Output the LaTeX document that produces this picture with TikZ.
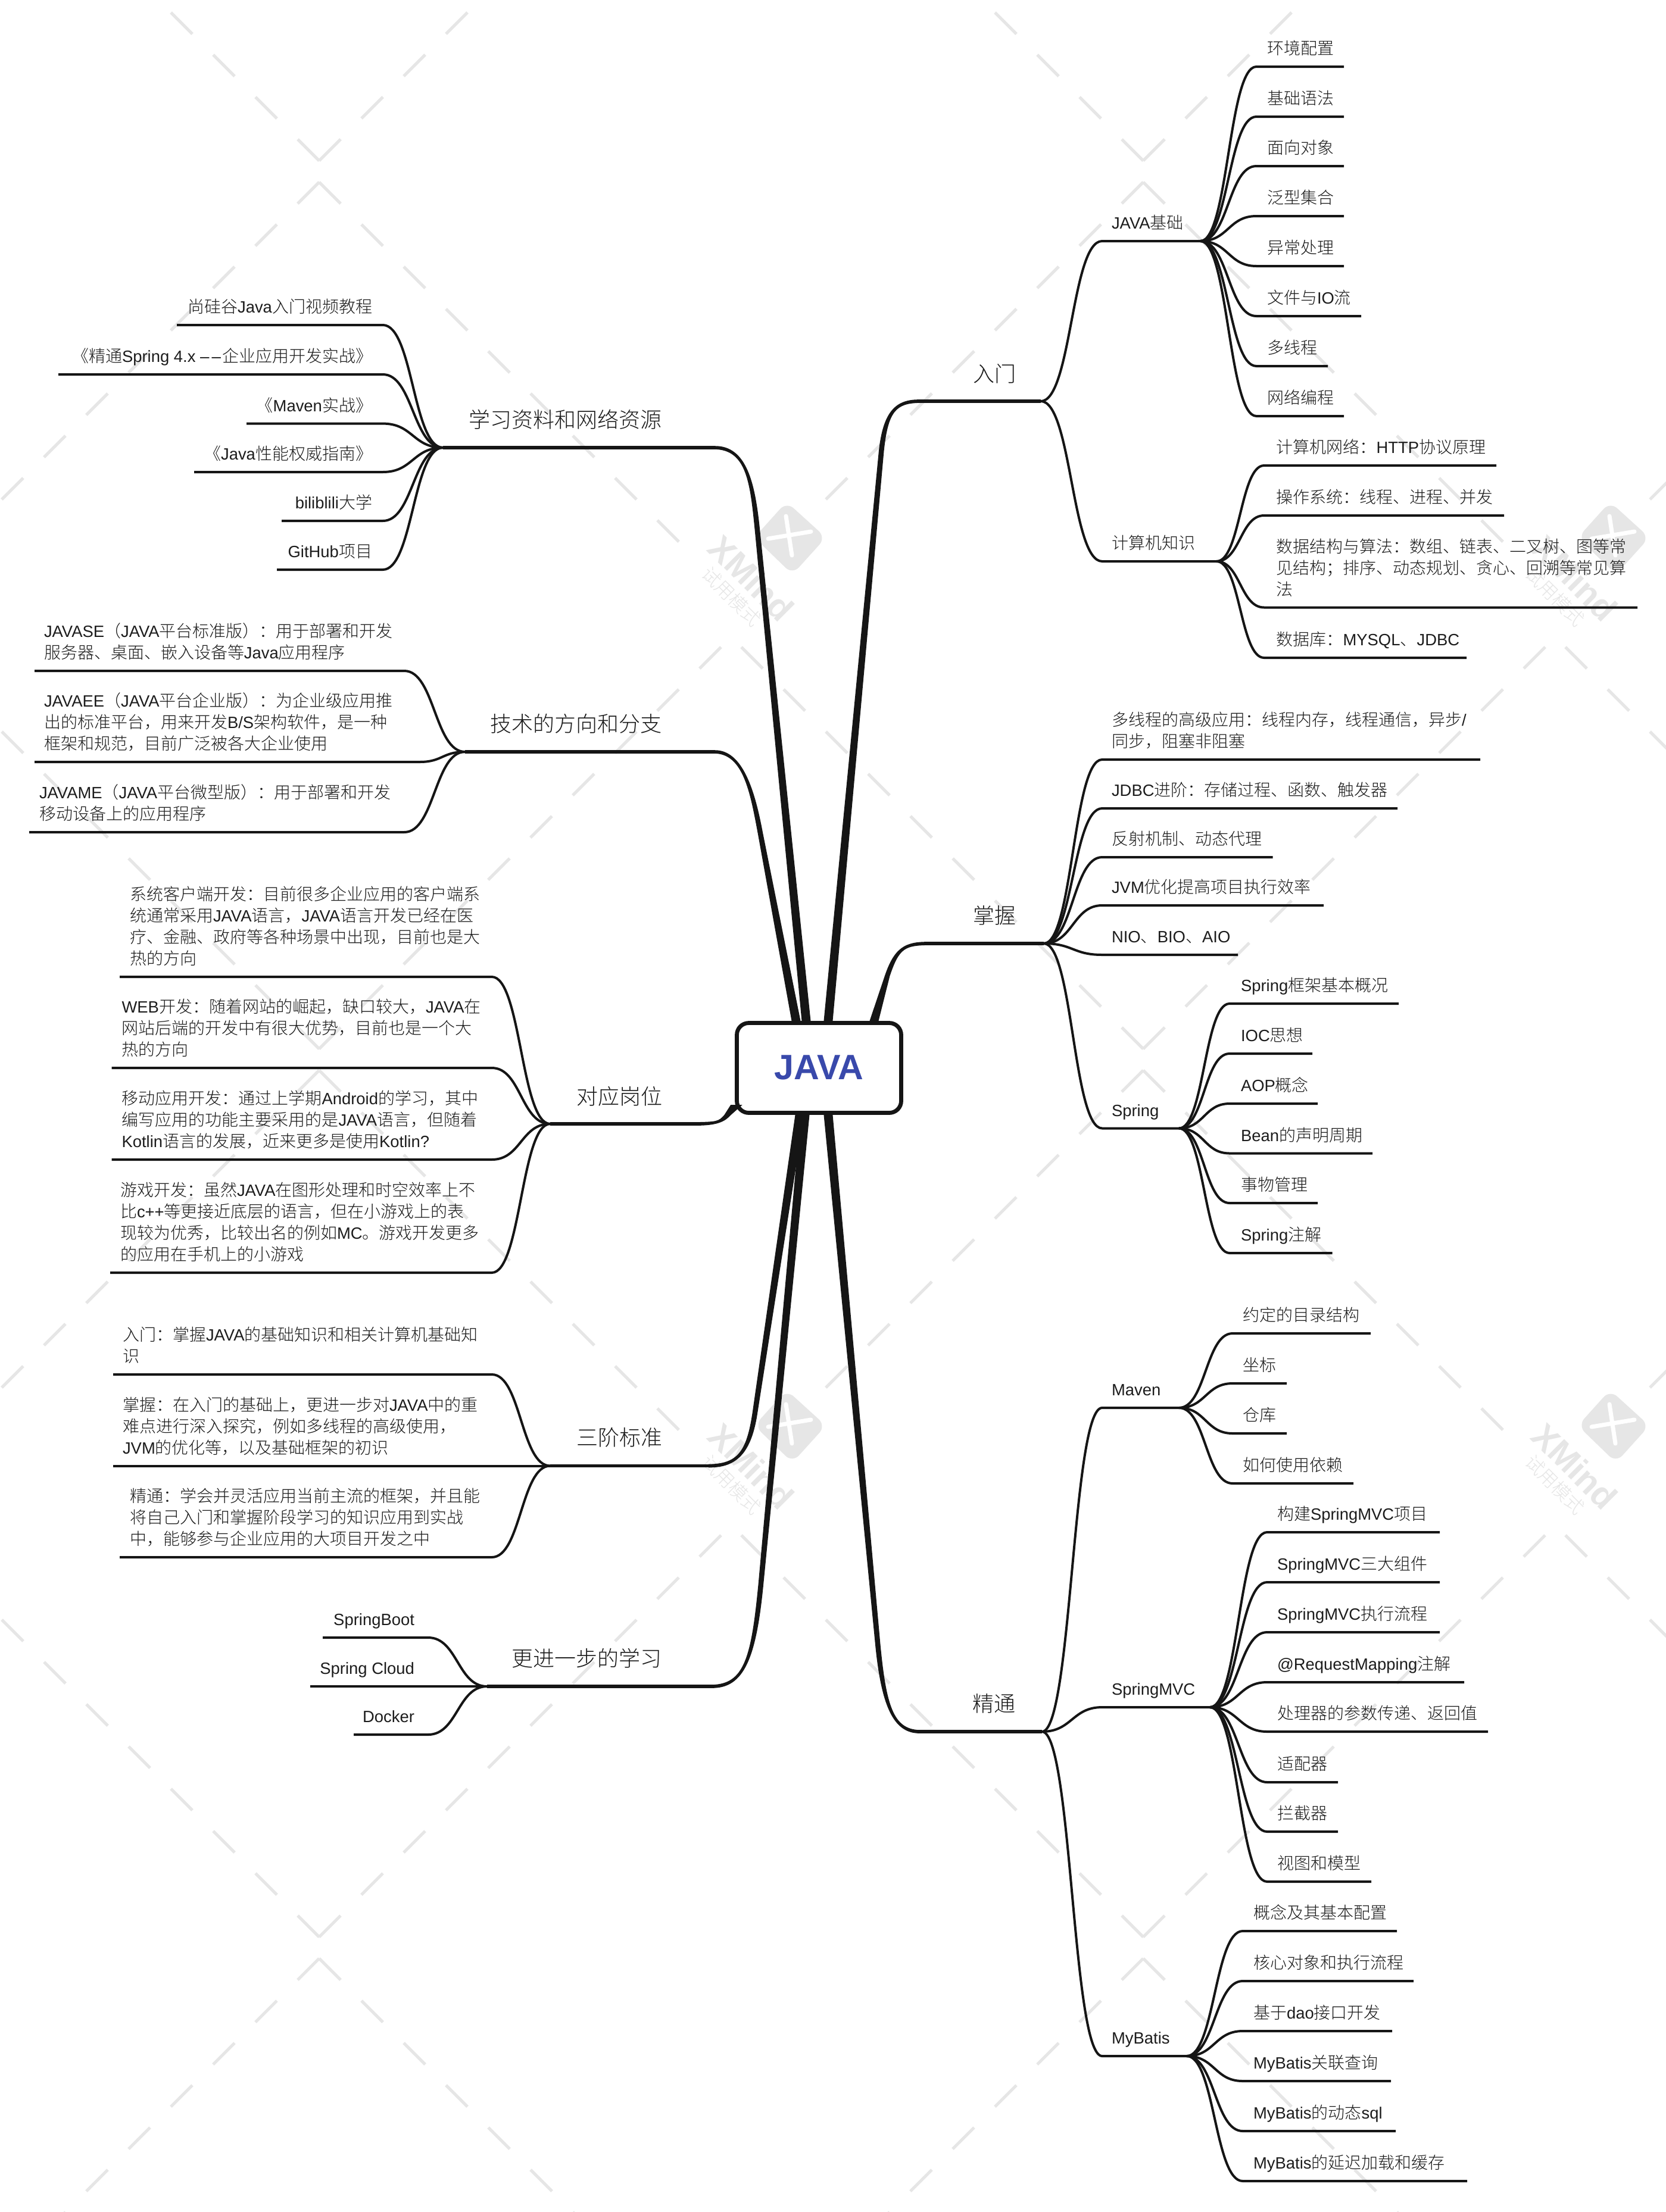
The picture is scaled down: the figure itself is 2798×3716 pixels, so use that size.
\documentclass[tikz,border=0pt]{standalone}
\usepackage{fontspec}
\usetikzlibrary{calc}
\setmainfont[Scale=0.98]{Liberation Sans}
\newfontfamily\latf[Scale=0.98]{Liberation Sans}
\newfontfamily\latb{Liberation Sans Bold}
\newfontfamily\dashf[FakeStretch=0.55]{Liberation Sans}
\newfontfamily\cjkf{Noto Sans CJK SC Light}
\newcount\cc
\def\setrange#1#2{\cc=#1\relax\loop\XeTeXcharclass\cc=5\relax\ifnum\cc<#2\relax\advance\cc by 1\relax\repeat}
\setrange{"3000}{"303F}\setrange{"4E00}{"9FFF}\setrange{"FF00}{"FFEF}
\XeTeXinterchartokenstate=1
\XeTeXinterchartoks 0 5 = {\cjkf}
\XeTeXinterchartoks 4095 5 = {\cjkf}
\XeTeXinterchartoks 5 0 = {\latf}
\XeTeXinterchartoks 5 4095 = {\latf}
\definecolor{ink}{HTML}{151515}
\definecolor{txt}{HTML}{1C1C1C}
\definecolor{wmc}{HTML}{E6E6E6}
\definecolor{rootblue}{HTML}{3949AB}
\newcommand{\mystrut}{\rule{0pt}{13pt}\rule[-5pt]{0pt}{5pt}}
\newcommand{\brk}{\mystrut\\\mystrut}
\tikzset{
  lbl/.style={inner sep=0pt,outer sep=0pt,align=left,text=txt,
    font=\fontsize{14pt}{18pt}\selectfont,
    execute at begin node=\mystrut,execute at end node=\mystrut},
  biglbl/.style={inner sep=0pt,outer sep=0pt,text=txt,font=\fontsize{18pt}{22pt}\selectfont},
  link/.style={draw=ink,line width=2pt,line join=round},
  mainline/.style={draw=ink,line width=2.8pt},
  wm/.style={draw=wmc,line width=2.5pt},
  wmtext/.style={text=wmc,inner sep=0pt,rotate=-45},
}
% #1 fork, #2 id, #3 anchor side, #4 text x, #5 line y, #6 start x, #7 end x, #8 text
\newcommand{\leaf}[8]{%
  \coordinate (#2s) at (#6,#5);
  \coordinate (#2e) at (#7,#5);
  \node[lbl,anchor=south #3] (#2) at (#4,#5-10.4) {#8};
  \draw[link] let \p1=(#1),\p2=(#2s) in (#1) .. controls ({0.5*\x1+0.5*\x2},\y1) and ({0.5*\x1+0.5*\x2},\y2) .. (#2s) -- (#2e);
}
% #1 sign, #2 P, #3 Q, #4 C1, #5 C2, #6 E, #7 fork
\def\wf{1}
\newcommand{\rootlink}[7]{%
  \pgfmathsetmacro{\sg}{#1}
  \fill[ink] ($(#2)+(-7.5*\wf,0)$) -- ($(#3)+(-4.3*\wf,0)$)
    .. controls ($(#4)+(-4.3*\wf,0)$) and ($(#5)+(0,-3.5*\sg)$) .. ($(#6)+(0,-2.8*\sg)$)
    -- ($(#6)+(0,2.8*\sg)$)
    .. controls ($(#5)+(0,3.5*\sg)$) and ($(#4)+(4.3*\wf,0)$) .. ($(#3)+(4.3*\wf,0)$)
    -- ($(#2)+(7.5*\wf,0)$) -- cycle;
  \draw[mainline] (#6) -- (#7);
}
\newcommand{\logo}[2]{%
  \begin{scope}[shift={(#1,#2)}]
    \fill[wmc,rounded corners=8] (-7,-60) -- (59,0) -- (3,62) -- (-61,0) -- cycle;
    \draw[white,line width=3.5pt,line cap=round] (-8,-36) -- (2,30);
    \draw[white,line width=3.5pt,line cap=round] (-38,2) -- (34,-10);
    \node[wmtext,font=\latb\fontsize{29pt}{29pt}\selectfont] (xm#1#2) at (-66,68) {XMind};
    \node[wmtext,font=\fontsize{15.5pt}{16pt}\selectfont] (sy#1#2) at (-99,99) {试用模式};
  \end{scope}
}
\begin{document}
\begin{tikzpicture}[x=0.5pt,y=-0.5pt]
\useasboundingbox (0,0) rectangle (2798,3716);
\fill[white] (0,0) rectangle (2798,3716);
% watermark
\begin{scope}
\clip (0,0) rectangle (2798,3716);
\foreach \i in {0,1,2} \foreach \j in {0,1,2} {
  \foreach \k in {0,...,9} {
    \draw[wm] ({536+1384*\i-71*\k},{270+1492*\j-71*\k}) -- ++(-36,-36);
    \draw[wm] ({536+1384*\i+71*\k},{270+1492*\j-71*\k}) -- ++(36,-36);
  }
  \foreach \k in {0,...,8} {
    \draw[wm] ({536+1384*\i-71*\k},{306+1492*\j+71*\k}) -- ++(-36,36);
    \draw[wm] ({536+1384*\i+71*\k},{306+1492*\j+71*\k}) -- ++(36,36);
  }
}
\logo{1328}{903}\logo{2711}{903}\logo{1328}{2395}\logo{2711}{2395}
\end{scope}
% root
\node[draw=ink,line width=3.4pt,fill=white,rounded corners=10pt,minimum width=138pt,minimum height=75.5pt,inner sep=0pt,
  text=rootblue,font=\latb\fontsize{29.6pt}{30pt}\selectfont,yshift=0pt] (root) at (1375.5,1794) {\raisebox{1pt}{JAVA}};
% main branches
\coordinate (rz) at (1748,674);
\coordinate (ra) at (1391,1715); \coordinate (rb) at (1480,760); \coordinate (rc) at (1487,690); \coordinate (rd) at (1505,674); \coordinate (re) at (1545,674);
\rootlink{1}{ra}{rb}{rc}{rd}{re}{rz}
\node[biglbl] (rumen) at (1670.5,628) {入门};
\coordinate (wz) at (1753,1585);
\coordinate (wa) at (1468,1715); \coordinate (wb) at (1490,1640); \coordinate (wc) at (1506,1592); \coordinate (wd) at (1520,1585); \coordinate (we) at (1560,1585);
\rootlink{1}{wa}{wb}{wc}{wd}{we}{wz}
\node[biglbl] (zhangwo) at (1670.5,1538) {掌握};
\coordinate (tz) at (1750,2909);
\coordinate (ta) at (1391,1873); \coordinate (tb) at (1474,2760); \coordinate (tc) at (1484,2865); \coordinate (td) at (1500,2909); \coordinate (te) at (1545,2909);
\rootlink{-1}{ta}{tb}{tc}{td}{te}{tz}
\node[biglbl] (jingtong) at (1669,2862) {精通};
\coordinate (xz) at (744,752);
\coordinate (xa) at (1354,1715); \coordinate (xb) at (1272,891); \coordinate (xc) at (1264,811); \coordinate (xd) at (1254,752); \coordinate (xe) at (1200,752);
\rootlink{-1}{xa}{xb}{xc}{xd}{xe}{xz}
\node[biglbl] (xuexi) at (949,705) {学习资料和网络资源};
\coordinate (jz) at (781,1263);
\coordinate (ja) at (1337,1715); \coordinate (jb) at (1277,1400); \coordinate (jc) at (1264,1330); \coordinate (jd) at (1248,1263); \coordinate (je) at (1200,1263);
\rootlink{-1}{ja}{jb}{jc}{jd}{je}{jz}
\node[biglbl] (jishu) at (967,1216) {技术的方向和分支};
\coordinate (gz) at (924,1888);
\coordinate (ga) at (1237,1856); \coordinate (gb) at (1222,1873); \coordinate (gc) at (1212,1884); \coordinate (gd) at (1205,1888); \coordinate (ge) at (1165,1888);
{\def\wf{1.3}\rootlink{1}{ga}{gb}{gc}{gd}{ge}{gz}}
\node[biglbl] (gangwei) at (1040,1842) {对应岗位};
\coordinate (sz) at (924,2462.5);
\coordinate (sa) at (1343,1873); \coordinate (sb) at (1268,2373); \coordinate (sc) at (1258,2440); \coordinate (sd) at (1238,2462.5); \coordinate (se) at (1190,2462.5);
\rootlink{1}{sa}{sb}{sc}{sd}{se}{sz}
\node[biglbl] (sanjie) at (1040,2415) {三阶标准};
\coordinate (mz) at (818,2833);
\coordinate (ma) at (1352,1873); \coordinate (mb) at (1278,2660); \coordinate (mc) at (1266,2785); \coordinate (md) at (1250,2833); \coordinate (me) at (1195,2833);
\rootlink{1}{ma}{mb}{mc}{md}{me}{mz}
\node[biglbl] (gengjin) at (985,2786) {更进一步的学习};
% 入门
\leaf{rz}{jb}{west}{1867}{405}{1851}{2016}{JAVA基础}
\leaf{rz}{ck}{west}{1867}{943}{1851}{2043}{计算机知识}
\leaf{jbe}{ja1}{west}{2128}{112}{2110}{2257}{环境配置}
\leaf{jbe}{ja2}{west}{2128}{196}{2110}{2257}{基础语法}
\leaf{jbe}{ja3}{west}{2128}{279}{2110}{2257}{面向对象}
\leaf{jbe}{ja4}{west}{2128}{363}{2110}{2257}{泛型集合}
\leaf{jbe}{ja5}{west}{2128}{447}{2110}{2257}{异常处理}
\leaf{jbe}{ja6}{west}{2128}{531}{2110}{2286}{文件与IO流}
\leaf{jbe}{ja7}{west}{2128}{615}{2110}{2230}{多线程}
\leaf{jbe}{ja8}{west}{2128}{699}{2110}{2257}{网络编程}
\leaf{cke}{ck1}{west}{2143.5}{782}{2123}{2513}{计算机网络：HTTP协议原理}
\leaf{cke}{ck2}{west}{2143.5}{866}{2123}{2526}{操作系统：线程、进程、并发}
\leaf{cke}{ck3}{west}{2143.5}{1020.5}{2123}{2750}{数据结构与算法：数组、链表、二叉树、图等常\brk 见结构；排序、动态规划、贪心、回溯等常见算\brk 法}
\leaf{cke}{ck4}{west}{2143.5}{1105}{2123}{2463}{数据库：MYSQL、JDBC}
% 掌握
\leaf{wz}{zw1}{west}{1867}{1276}{1851}{2486}{多线程的高级应用：线程内存，线程通信，异步/\brk 同步，阻塞非阻塞}
\leaf{wz}{zw2}{west}{1867}{1358}{1851}{2347}{JDBC进阶：存储过程、函数、触发器}
\leaf{wz}{zw3}{west}{1867}{1440}{1851}{2137.5}{反射机制、动态代理}
\leaf{wz}{zw4}{west}{1867}{1521}{1851}{2223}{JVM优化提高项目执行效率}
\leaf{wz}{zw5}{west}{1867}{1604}{1851}{2079}{NIO、BIO、AIO}
\leaf{wz}{sp}{west}{1867}{1895.5}{1851}{1980}{Spring}
\leaf{spe}{sp1}{west}{2084}{1686}{2065}{2349}{Spring框架基本概况}
\leaf{spe}{sp2}{west}{2084}{1770}{2065}{2204}{IOC思想}
\leaf{spe}{sp3}{west}{2084}{1854}{2065}{2213}{AOP概念}
\leaf{spe}{sp4}{west}{2084}{1937.5}{2065}{2305}{Bean的声明周期}
\leaf{spe}{sp5}{west}{2084}{2021}{2065}{2213}{事物管理}
\leaf{spe}{sp6}{west}{2084}{2105}{2065}{2237.5}{Spring注解}
% 精通
\leaf{tz}{mv}{west}{1867}{2365}{1851}{1980}{Maven}
\leaf{tz}{sm}{west}{1867}{2868}{1851}{2032}{SpringMVC}
\leaf{tz}{mb}{west}{1867}{3454}{1851}{1993}{MyBatis}
\leaf{mve}{mv1}{west}{2087}{2240}{2070}{2302}{约定的目录结构}
\leaf{mve}{mv2}{west}{2087}{2324}{2070}{2161}{坐标}
\leaf{mve}{mv3}{west}{2087}{2408}{2070}{2161}{仓库}
\leaf{mve}{mv4}{west}{2087}{2492}{2070}{2273}{如何使用依赖}
\leaf{sme}{sm1}{west}{2145}{2574}{2128}{2418}{构建SpringMVC项目}
\leaf{sme}{sm2}{west}{2145}{2658}{2128}{2418}{SpringMVC三大组件}
\leaf{sme}{sm3}{west}{2145}{2742}{2128}{2418}{SpringMVC执行流程}
\leaf{sme}{sm4}{west}{2145}{2826}{2128}{2459}{@RequestMapping注解}
\leaf{sme}{sm5}{west}{2145}{2909}{2128}{2499}{处理器的参数传递、返回值}
\leaf{sme}{sm6}{west}{2145}{2994}{2128}{2247}{适配器}
\leaf{sme}{sm7}{west}{2145}{3077}{2128}{2247}{拦截器}
\leaf{sme}{sm8}{west}{2145}{3161}{2128}{2303}{视图和模型}
\leaf{mbe}{mb1}{west}{2105}{3244}{2087}{2346}{概念及其基本配置}
\leaf{mbe}{mb2}{west}{2105}{3328}{2087}{2374}{核心对象和执行流程}
\leaf{mbe}{mb3}{west}{2105}{3412}{2087}{2338}{基于dao接口开发}
\leaf{mbe}{mb4}{west}{2105}{3496}{2087}{2336}{MyBatis关联查询}
\leaf{mbe}{mb5}{west}{2105}{3580}{2087}{2344}{MyBatis的动态sql}
\leaf{mbe}{mb6}{west}{2105}{3664}{2087}{2464}{MyBatis的延迟加载和缓存}
% 学习资料
\leaf{xz}{xx1}{east}{625}{546}{643}{297}{尚硅谷Java入门视频教程}
\leaf{xz}{xx2}{east}{625}{629}{643}{98}{《精通Spring 4.x {\dashf —\kern2pt—\kern1pt}企业应用开发实战》}
\leaf{xz}{xx3}{east}{625}{711.6}{643}{414}{《Maven实战》}
\leaf{xz}{xx4}{east}{625}{793}{643}{326}{《Java性能权威指南》}
\leaf{xz}{xx5}{east}{625}{875}{643}{473}{biliblili大学}
\leaf{xz}{xx6}{east}{625}{957}{643}{465}{GitHub项目}
% 技术
\leaf{jz}{js1}{west}{74}{1127}{679}{58}{JAVASE（JAVA平台标准版）：用于部署和开发\brk 服务器、桌面、嵌入设备等Java应用程序}
\leaf{jz}{js2}{west}{74}{1280}{705}{58}{JAVAEE（JAVA平台企业版）：为企业级应用推\brk 出的标准平台，用来开发B/S架构软件，是一种\brk 框架和规范，目前广泛被各大企业使用}
\leaf{jz}{js3}{west}{66}{1398}{679}{49}{JAVAME（JAVA平台微型版）：用于部署和开发\brk 移动设备上的应用程序}
% 对应岗位
\leaf{gz}{gw1}{west}{218}{1641}{826}{201}{系统客户端开发：目前很多企业应用的客户端系\brk 统通常采用JAVA语言，JAVA语言开发已经在医\brk 疗、金融、政府等各种场景中出现，目前也是大\brk 热的方向}
\leaf{gz}{gw2}{west}{204.5}{1794}{826}{187.5}{WEB开发：随着网站的崛起，缺口较大，JAVA在\brk 网站后端的开发中有很大优势，目前也是一个大\brk 热的方向}
\leaf{gz}{gw3}{west}{204.5}{1948}{826}{187.5}{移动应用开发：通过上学期Android的学习，其中\brk 编写应用的功能主要采用的是JAVA语言，但随着\brk Kotlin语言的发展，近来更多是使用Kotlin?}
\leaf{gz}{gw4}{west}{202}{2138}{826}{185}{游戏开发：虽然JAVA在图形处理和时空效率上不\brk 比c++等更接近底层的语言，但在小游戏上的表\brk 现较为优秀，比较出名的例如MC。游戏开发更多\brk 的应用在手机上的小游戏}
% 三阶标准
\leaf{sz}{sj1}{west}{206}{2309}{826}{190}{入门：掌握JAVA的基础知识和相关计算机基础知\brk 识}
\leaf{sz}{sj2}{west}{206}{2462.5}{826}{190}{掌握：在入门的基础上，更进一步对JAVA中的重\brk 难点进行深入探究，例如多线程的高级使用，\brk JVM的优化等，以及基础框架的初识}
\leaf{sz}{sj3}{west}{218}{2616}{826}{201}{精通：学会并灵活应用当前主流的框架，并且能\brk 将自己入门和掌握阶段学习的知识应用到实战\brk 中，能够参与企业应用的大项目开发之中}
% 更进一步
\leaf{mz}{gj1}{east}{696}{2751}{719}{542}{SpringBoot}
\leaf{mz}{gj2}{east}{696}{2833}{719}{521}{Spring Cloud}
\leaf{mz}{gj3}{east}{696}{2914}{719}{594}{Docker}
\end{tikzpicture}
\end{document}
